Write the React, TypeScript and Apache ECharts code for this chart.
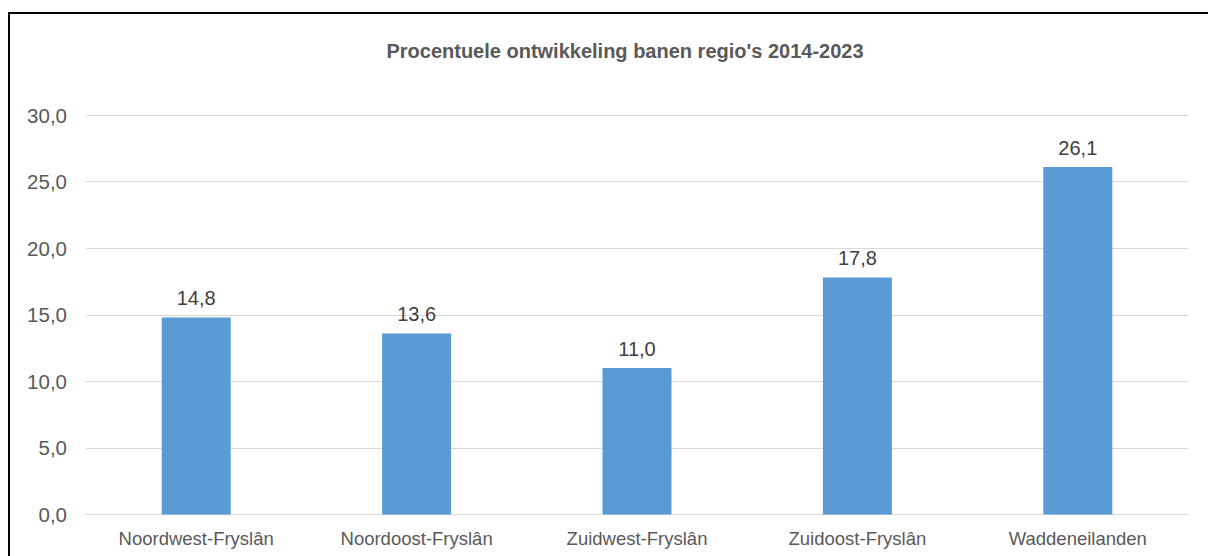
import React, { useEffect, useRef } from "react";
import * as echarts from "echarts";

const categories = ["Noordwest-Fryslân", "Noordoost-Fryslân", "Zuidwest-Fryslân", "Zuidoost-Fryslân", "Waddeneilanden"];
const values = [14.8, 13.6, 11.0, 17.8, 26.1];
const titleText = "Procentuele ontwikkeling banen regio's 2014-2023";

const fmt = (v: number) => v.toFixed(1).replace(".", ",");
const FONT = "Liberation Sans, Arial, sans-serif";

export default function App() {
  const ref = useRef<HTMLDivElement>(null);
  useEffect(() => {
    document.body.style.margin = "0";
    const chart = echarts.init(ref.current!, undefined, { renderer: "svg" });
    chart.setOption({
      animation: false,
      textStyle: { fontFamily: FONT },
      title: {
        text: titleText,
        left: 620,
        top: 36,
        textAlign: "center",
        textStyle: { fontSize: 20, fontWeight: "bold", color: "#595959", fontFamily: FONT },
      },
      graphic: [
        {
          type: "rect",
          shape: { x: 9, y: 13, width: 1300, height: 700 },
          style: { fill: "none", stroke: "#000", lineWidth: 2 },
          silent: true,
        },
      ],
      grid: { left: 86, right: 20, top: 115, bottom: 41.5, containLabel: false },
      xAxis: {
        type: "category",
        data: categories,
        axisLine: { show: true, lineStyle: { color: "#d9d9d9", width: 1 } },
        axisTick: { show: false },
        axisLabel: { color: "#595959", fontSize: 18.5, margin: 14, fontFamily: FONT },
      },
      yAxis: {
        type: "value",
        min: 0,
        max: 30,
        interval: 5,
        axisLine: { show: false },
        axisTick: { show: false },
        splitLine: { lineStyle: { color: "#d9d9d9", width: 1 } },
        axisLabel: { color: "#595959", fontSize: 20.5, margin: 19, formatter: (v: number) => fmt(v), fontFamily: FONT },
      },
      series: [
        {
          type: "bar",
          data: values,
          barWidth: 69,
          itemStyle: { color: "#5b9bd5" },
          label: {
            show: true,
            position: "top",
            distance: 9,
            color: "#404040",
            fontSize: 20,
            formatter: (p: any) => fmt(p.value),
            fontFamily: FONT,
          },
        },
      ],
    });
    return () => chart.dispose();
  }, []);
  return <div ref={ref} style={{ width: 1208, height: 556 }} />;
}
